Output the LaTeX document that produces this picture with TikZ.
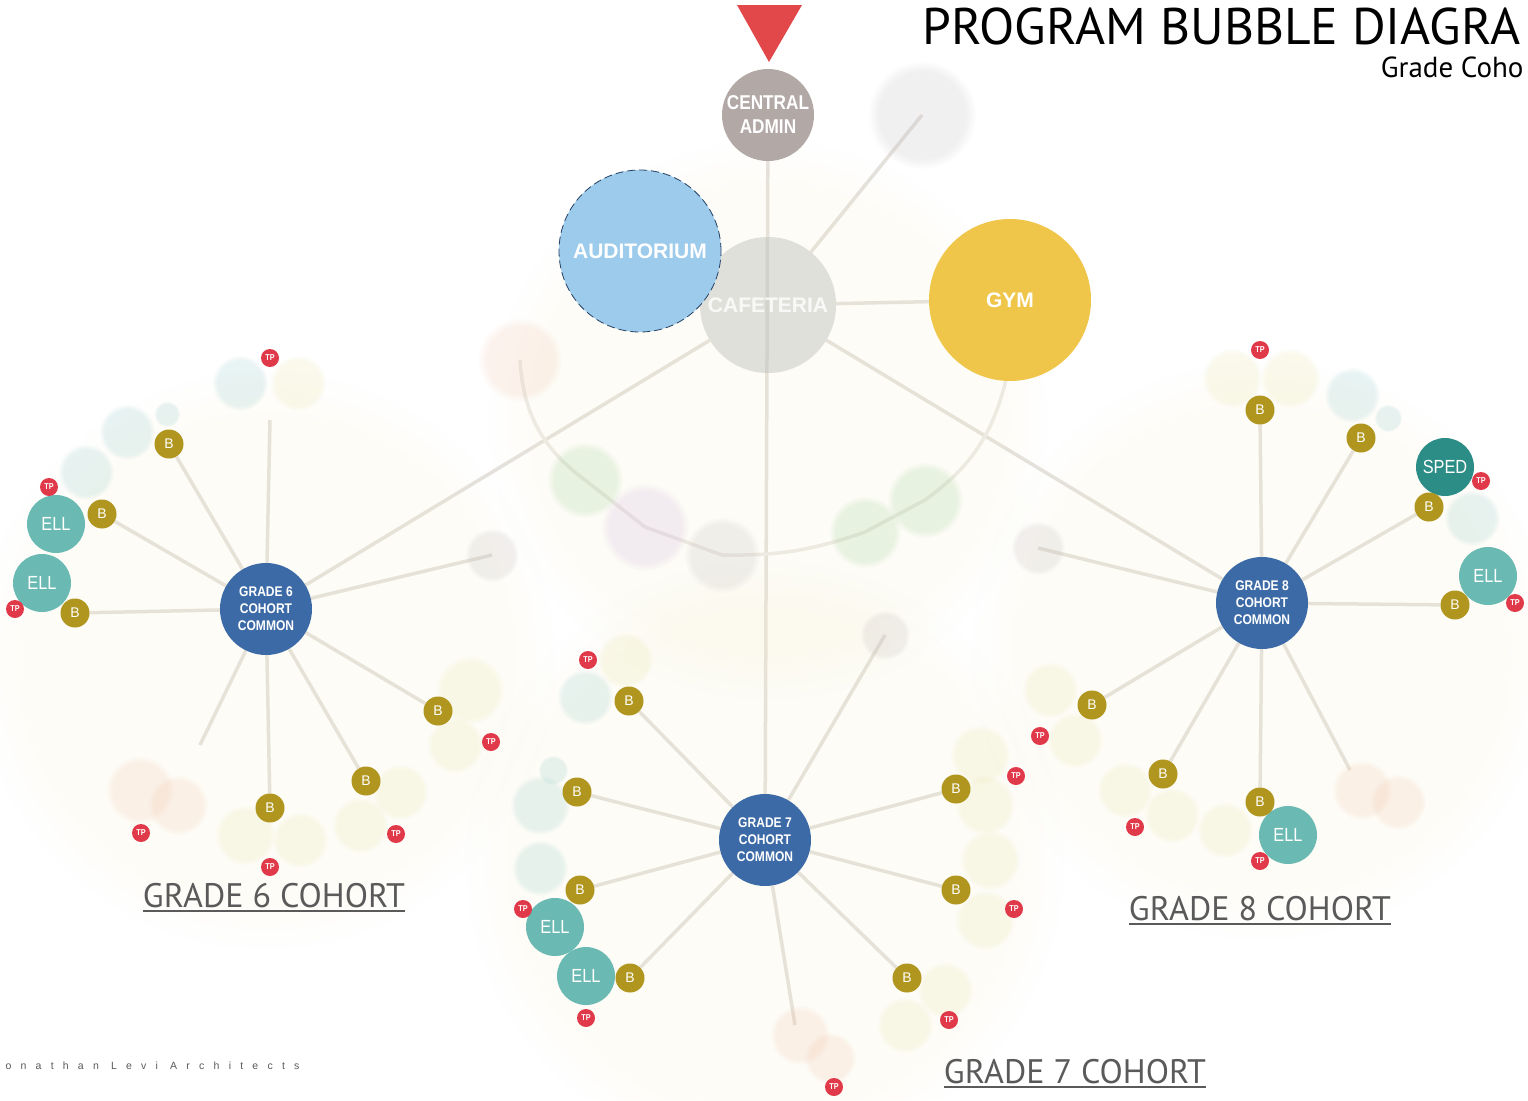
\documentclass[tikz,border=0pt]{standalone}
\usepackage{fontspec}
\setmainfont{Liberation Sans}
\newfontfamily\titlefont{PT Sans}
\newfontfamily\bubblefont[FakeStretch=0.86]{Liberation Sans}
\usetikzlibrary{positioning, calc, fadings, backgrounds}

\definecolor{hubblue}{HTML}{3C6AA6}
\definecolor{ellteal}{HTML}{6AB9B3}
\definecolor{spedteal}{HTML}{2C8C86}
\definecolor{bgold}{HTML}{B0961F}
\definecolor{tpred}{HTML}{E03A4A}
\definecolor{admingray}{HTML}{B2A9A7}
\definecolor{audblue}{HTML}{9DCBEB}
\definecolor{gymyellow}{HTML}{F0C64A}
\definecolor{cafgray}{HTML}{BEBEBC}
\definecolor{linkgray}{HTML}{E4E1DD}
\definecolor{labelgray}{HTML}{5A5A5A}
\definecolor{arrowred}{HTML}{E2474A}
\definecolor{ghteal}{HTML}{8CC6C4}
\definecolor{ghyellow}{HTML}{E6E29E}
\definecolor{ghpeach}{HTML}{F2C2A8}
\definecolor{ghgreen}{HTML}{8FCB88}
\definecolor{ghpurple}{HTML}{C9A8D9}
\definecolor{ghgray}{HTML}{BDB6B6}
\definecolor{glowcream}{HTML}{F6EBC0}

\newcommand\underrule[1]{\setbox0\hbox{#1}\vtop{\copy0\kern3pt\hrule height 1.8pt width \wd0}}

\begin{document}
\begin{tikzpicture}[x=1pt,y=-1pt,
  hub node/.style={circle,fill=hubblue,minimum size=92,inner sep=0,text=white,align=center,
    font=\bubblefont\bfseries\fontsize{14}{17}\selectfont},
  b node/.style={circle,fill=bgold,minimum size=29,inner sep=0,text=white,
    font=\fontsize{14}{14}\selectfont},
  tp node/.style={circle,fill=tpred,minimum size=18,inner sep=0,text=white,
    font=\bubblefont\bfseries\fontsize{8.5}{8.5}\selectfont},
  ell node/.style={circle,fill=ellteal,minimum size=58,inner sep=0,text=white,
    font=\bubblefont\fontsize{19}{19}\selectfont},
  big node/.style={circle,inner sep=0,text=white,align=center,
    font=\bfseries\fontsize{21}{24}\selectfont},
  ghost/.style={fill=#1,fill opacity=.2,path fading=circle with fuzzy edge 20 percent},
  link/.style={draw=linkgray,line width=3.5},
  cohort label/.style={anchor=base,text=labelgray,font=\titlefont\fontsize{34}{34}\selectfont}]
  \useasboundingbox (0,0) rectangle (1528,1100);

  % soft glow under the cohorts
  \fill[ghost=glowcream, fill opacity=.14] (266,660) circle (290);
  \fill[ghost=glowcream, fill opacity=.14] (765,860) circle (300);
  \fill[ghost=glowcream, fill opacity=.14] (1262,650) circle (290);
  \fill[ghost=glowcream, fill opacity=.14] (768,420) circle (280);

  % faded bubbles round the core
  \fill[ghost=ghgray] (922,115) circle (54);
  \fill[ghost=ghpeach] (520,360) circle (42);
  \fill[ghost=ghgreen] (585,480) circle (38);
  \fill[ghost=ghpurple] (645,527) circle (44);
  \fill[ghost=ghgray] (722,555) circle (38);
  \fill[ghost=ghgreen] (865,532) circle (36);
  \fill[ghost=ghgreen] (925,500) circle (38);
  \coordinate (ctop) at (922,115);
  \coordinate (cpink) at (520,360);
  \coordinate (cgreen) at (585,480);
  \coordinate (cpurple) at (645,527);
  \coordinate (cgray) at (722,555);
  \coordinate (cgreenb) at (865,532);
  \coordinate (cgreenc) at (925,500);

  % faded bubbles, grade 6
  \fill[ghost=ghteal] (240,383) circle (28);
  \fill[ghost=ghyellow] (298,383) circle (28);
  \fill[ghost=ghteal] (127,432) circle (28);
  \fill[ghost=ghteal] (167,414) circle (13);
  \fill[ghost=ghteal] (86,472) circle (28);
  \fill[ghost=ghyellow] (470,690) circle (34);
  \fill[ghost=ghyellow] (455,745) circle (28);
  \fill[ghost=ghyellow] (400,792) circle (28);
  \fill[ghost=ghyellow] (360,825) circle (28);
  \fill[ghost=ghyellow] (245,835) circle (30);
  \fill[ghost=ghyellow] (300,840) circle (28);
  \fill[ghost=ghpeach] (140,790) circle (34);
  \fill[ghost=ghpeach] (178,805) circle (30);
  \fill[ghost=ghgray] (492,555) circle (27);
  \coordinate (g6up) at (270,420);
  \coordinate (g6e) at (492,555);
  \coordinate (g6sw) at (200,745);

  % faded bubbles, grade 7
  \fill[ghost=ghteal] (585,697) circle (28);
  \fill[ghost=ghyellow] (625,660) circle (28);
  \fill[ghost=ghteal] (540,805) circle (30);
  \fill[ghost=ghteal] (553,770) circle (15);
  \fill[ghost=ghteal] (540,868) circle (28);
  \fill[ghost=ghyellow] (980,755) circle (30);
  \fill[ghost=ghyellow] (985,805) circle (30);
  \fill[ghost=ghyellow] (990,860) circle (30);
  \fill[ghost=ghyellow] (985,920) circle (30);
  \fill[ghost=ghyellow] (945,990) circle (28);
  \fill[ghost=ghyellow] (905,1025) circle (28);
  \fill[ghost=ghpeach] (800,1035) circle (30);
  \fill[ghost=ghpeach] (830,1058) circle (26);
  \fill[ghost=ghgray] (885,635) circle (25);
  \coordinate (g7s) at (795,1025);
  \coordinate (g7ne) at (885,635);

  % faded bubbles, grade 8
  \fill[ghost=ghyellow] (1232,378) circle (30);
  \fill[ghost=ghyellow] (1290,378) circle (30);
  \fill[ghost=ghteal] (1352,395) circle (28);
  \fill[ghost=ghteal] (1388,418) circle (14);
  \fill[ghost=ghteal] (1472,518) circle (28);
  \fill[ghost=ghyellow] (1050,690) circle (28);
  \fill[ghost=ghyellow] (1075,740) circle (28);
  \fill[ghost=ghyellow] (1125,790) circle (28);
  \fill[ghost=ghyellow] (1172,815) circle (28);
  \fill[ghost=ghyellow] (1225,830) circle (28);
  \fill[ghost=ghpeach] (1362,790) circle (30);
  \fill[ghost=ghpeach] (1398,802) circle (28);
  \fill[ghost=ghgray] (1038,548) circle (27);
  \coordinate (g8w) at (1038,548);
  \coordinate (g8se) at (1350,770);

  % core
  \fill[arrowred] (737,5) -- (802,5) -- (769,62) -- cycle;
  \node[big node, fill=admingray, minimum size=92, font=\bubblefont\bfseries\fontsize{20}{24}\selectfont] (admin) at (768,115) {CENTRAL\\ADMIN};
  \node[big node, fill=cafgray, fill opacity=.45, text opacity=.8, minimum size=136] (caf) at (768,305) {CAFETERIA};
  \node[big node, fill=audblue, draw=hubblue!60!black, dash pattern=on 8pt off 4pt, line width=.8, minimum size=162] (aud) at (640,251) {AUDITORIUM};
  \node[big node, fill=gymyellow, minimum size=162] (gym) at (1010,300) {GYM};

  % cohort commons
  \node[hub node] (g6) at (266,609) {GRADE 6\\COHORT\\COMMON};
  \node[hub node] (g7) at (765,840) {GRADE 7\\COHORT\\COMMON};
  \node[hub node] (g8) at (1262,603) {GRADE 8\\COHORT\\COMMON};

  % ELL and SPED
  \node[ell node] (g6ell1) at (56,524) {ELL};
  \node[ell node] (g6ell2) at (42,583) {ELL};
  \node[ell node] (g7ell1) at (555,927) {ELL};
  \node[ell node] (g7ell2) at (586,976) {ELL};
  \node[ell node] (g8ell1) at (1488,576) {ELL};
  \node[ell node] (g8ell2) at (1288,835) {ELL};
  \node[ell node, fill=spedteal] (g8sped) at (1445,467) {SPED};

  % B
  \node[b node] (g6b1) at (169,444) {B};
  \node[b node] (g6b2) at (102,514) {B};
  \node[b node] (g6b3) at (75,613) {B};
  \node[b node] (g6b4) at (438,711) {B};
  \node[b node] (g6b5) at (366,781) {B};
  \node[b node] (g6b6) at (270,808) {B};
  \node[b node] (g7b1) at (629,701) {B};
  \node[b node] (g7b2) at (577,792) {B};
  \node[b node] (g7b3) at (580,890) {B};
  \node[b node] (g7b4) at (630,978) {B};
  \node[b node] (g7b5) at (907,978) {B};
  \node[b node] (g7b6) at (956,890) {B};
  \node[b node] (g7b7) at (956,789) {B};
  \node[b node] (g8b1) at (1260,410) {B};
  \node[b node] (g8b2) at (1361,438) {B};
  \node[b node] (g8b3) at (1429,507) {B};
  \node[b node] (g8b4) at (1455,605) {B};
  \node[b node] (g8b5) at (1092,705) {B};
  \node[b node] (g8b6) at (1163,774) {B};
  \node[b node] (g8b7) at (1260,802) {B};

  % TP
  \node[tp node] (g6tp1) at (270,358) {TP};
  \node[tp node] (g6tp2) at (49,487) {TP};
  \node[tp node] (g6tp3) at (15,609) {TP};
  \node[tp node] (g6tp4) at (491,742) {TP};
  \node[tp node] (g6tp5) at (396,834) {TP};
  \node[tp node] (g6tp6) at (270,867) {TP};
  \node[tp node] (g6tp7) at (141,833) {TP};
  \node[tp node] (g7tp1) at (588,660) {TP};
  \node[tp node] (g7tp2) at (523,909) {TP};
  \node[tp node] (g7tp3) at (586,1018) {TP};
  \node[tp node] (g7tp4) at (834,1087) {TP};
  \node[tp node] (g7tp5) at (949,1020) {TP};
  \node[tp node] (g7tp6) at (1014,909) {TP};
  \node[tp node] (g7tp7) at (1016,776) {TP};
  \node[tp node] (g8tp1) at (1260,350) {TP};
  \node[tp node] (g8tp2) at (1481,481) {TP};
  \node[tp node] (g8tp3) at (1515,603) {TP};
  \node[tp node] (g8tp4) at (1040,736) {TP};
  \node[tp node] (g8tp5) at (1135,827) {TP};
  \node[tp node] (g8tp6) at (1260,861) {TP};

  % titles
  \node[anchor=base west, font=\titlefont\fontsize{51.5}{51.5}\selectfont] (title) at (919,44) {PROGRAM BUBBLE DIAGRA};
  \node[anchor=base east, font=\titlefont\fontsize{29}{29}\selectfont] (subtitle) at (1527,77) {Grade Coho};
  \node[cohort label] (g6label) at (274,907) {\underrule{GRADE 6 COHORT}};
  \node[cohort label] (g7label) at (1075,1083) {\underrule{GRADE 7 COHORT}};
  \node[cohort label] (g8label) at (1260,920) {\underrule{GRADE 8 COHORT}};
  \node[anchor=base west, text=labelgray, font=\fontsize{10.5}{10.5}\selectfont\addfontfeature{LetterSpace=88}] (firm) at (2,1069) {onathan Levi Architects};

  \begin{pgfonlayer}{background}
    \fill[white] (0,0) rectangle (1528,1100);
    \path[link]
      (admin) edge (g7)
      (caf) edge (gym)
      (caf) edge (g6)
      (caf) edge (g8)
      (ctop) edge (caf)
      (g6) edge (g6up)
      (g6) edge (g6e)
      (g6) edge (g6sw)
      (g6) edge (g6b1)
      (g6) edge (g6b2)
      (g6) edge (g6b3)
      (g6) edge (g6b4)
      (g6) edge (g6b5)
      (g6) edge (g6b6)
      (g7) edge (g7ne)
      (g7) edge (g7s)
      (g7) edge (g7b1)
      (g7) edge (g7b2)
      (g7) edge (g7b3)
      (g7) edge (g7b4)
      (g7) edge (g7b5)
      (g7) edge (g7b6)
      (g7) edge (g7b7)
      (g8) edge (g8w)
      (g8) edge (g8se)
      (g8) edge (g8b1)
      (g8) edge (g8b2)
      (g8) edge (g8b3)
      (g8) edge (g8b4)
      (g8) edge (g8b5)
      (g8) edge (g8b6)
      (g8) edge (g8b7);
    \path[link, draw=linkgray!70]
      (cpink) edge[bend right=25] (cgreen)
      (cgreen) edge (cpurple)
      (cpurple) edge (cgray)
      (cgray) edge[bend right=10] (cgreenb)
      (cgreenb) edge (cgreenc)
      (cgreenc) edge[bend right=20] (gym);
  \end{pgfonlayer}
\end{tikzpicture}
\end{document}
